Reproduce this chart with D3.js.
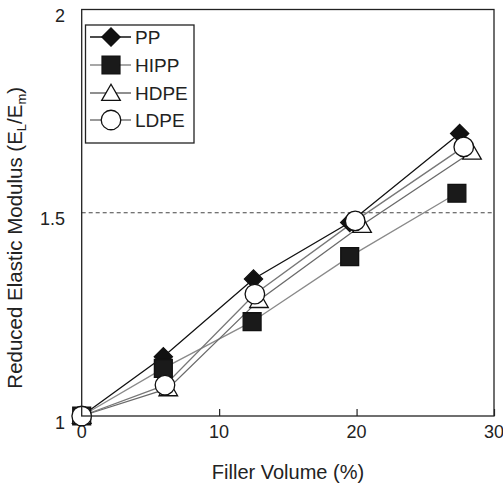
<!DOCTYPE html>
<html><head><meta charset="utf-8">
<script src="https://cdn.jsdelivr.net/npm/d3@7"></script>
<style>body{margin:0;background:#fff}svg{display:block;font-family:"Liberation Sans",Arial,sans-serif}</style>
</head><body><svg id="c" width="503" height="487"></svg>
<script>
const seriesNames = ["PP", "HIPP", "HDPE", "LDPE"];
const ppX = [0, 5.94, 12.5, 19.5, 27.5];
const ppY = [1, 1.146, 1.337, 1.476, 1.695];
const hippX = [0, 5.94, 12.4, 19.5, 27.3];
const hippY = [1, 1.117, 1.232, 1.392, 1.548];
const hdpeX = [0, 6.3, 12.9, 20.4, 28.4];
const hdpeY = [1, 1.068, 1.285, 1.470, 1.650];
const ldpeX = [0, 6.06, 12.6, 19.9, 27.8];
const ldpeY = [1, 1.076, 1.300, 1.480, 1.662];
const xTicks = [0, 10, 20, 30];
const yTicks = [1, 1.5, 2];

const svg = d3.select("#c");
const L = 81.7, R = 494, T = 9.5, B = 416;
const x = d3.scaleLinear().domain([0, 30]).range([L, R]);
const y = d3.scaleLinear().domain([1, 2]).range([B, T]);

const styles = {
  PP:   {line: "#111", sym: d3.symbolSquare, size: 165, rot: 45, fill: "#111"},
  HIPP: {line: "#8a8a8a", sym: d3.symbolSquare, size: 320, rot: 0, fill: "#1a1a1a"},
  HDPE: {line: "#6a6a6a", sym: d3.symbolTriangle, size: 150, rot: 0, fill: "#fff"},
  LDPE: {line: "#777", sym: d3.symbolCircle, size: 300, rot: 0, fill: "#fff"}
};
const data = {
  PP: ppX.map((v, i) => [v, ppY[i]]),
  HIPP: hippX.map((v, i) => [v, hippY[i]]),
  HDPE: hdpeX.map((v, i) => [v, hdpeY[i]]),
  LDPE: ldpeX.map((v, i) => [v, ldpeY[i]])
};

// dashed line at 1.5
svg.append("line").attr("x1", L).attr("x2", R).attr("y1", y(1.5)).attr("y2", y(1.5))
  .attr("stroke", "#444").attr("stroke-width", 1).attr("stroke-dasharray", "4,3");

// x axis ticks inward
const xa = d3.axisBottom(x).tickValues(xTicks).tickSize(-7).tickFormat("");
svg.append("g").attr("transform", `translate(0,${B})`).call(xa)
  .call(g => g.select(".domain").remove())
  .call(g => g.selectAll("line").attr("stroke", "#222").attr("stroke-width", 1.2));
svg.append("g").selectAll("text").data(xTicks).join("text")
  .attr("x", d => x(d)).attr("y", 438).attr("text-anchor", "middle")
  .attr("font-size", 18).attr("fill", "#222").text(d => d);
svg.append("g").selectAll("text").data(yTicks).join("text")
  .attr("x", 65).attr("y", d => y(d) + 12.5).attr("text-anchor", "end")
  .attr("font-size", 18).attr("fill", "#222").text(d => d);

// series
const line = d3.line().x(d => x(d[0])).y(d => y(d[1]));
function symPath(n) {
  const s = styles[n];
  return d3.symbol().type(s.sym).size(s.size)();
}
function tf(n, px, py) {
  const s = styles[n];
  return `translate(${px},${py + (n === "HDPE" ? 2 : 0)}) rotate(${s.rot})`;
}
seriesNames.forEach(n => {
  const s = styles[n];
  svg.append("path").datum(data[n]).attr("d", line).attr("fill", "none")
    .attr("stroke", s.line).attr("stroke-width", 1.3);
});
seriesNames.forEach(n => {
  const s = styles[n];
  svg.append("g").selectAll("path").data(data[n]).join("path")
    .attr("d", symPath(n))
    .attr("transform", d => tf(n, x(d[0]), y(d[1])))
    .attr("fill", s.fill).attr("stroke", "#111").attr("stroke-width", 1.3);
});

// frame
svg.append("rect").attr("x", L).attr("y", T).attr("width", R - L).attr("height", B - T)
  .attr("fill", "none").attr("stroke", "#222").attr("stroke-width", 1.3);

// legend
const lg = svg.append("g");
lg.append("rect").attr("x", 85.5).attr("y", 25).attr("width", 108.5).attr("height", 118)
  .attr("fill", "#fff").attr("stroke", "#222").attr("stroke-width", 1.3);
const rowY = [37, 65, 93, 120];
seriesNames.forEach((n, i) => {
  const s = styles[n];
  const g = lg.append("g").attr("transform", `translate(0,${rowY[i]})`);
  g.append("line").attr("x1", 90).attr("x2", 131).attr("stroke", s.line).attr("stroke-width", 1.3);
  g.append("path").attr("d", symPath(n)).attr("transform", tf(n, 111, 0))
    .attr("fill", s.fill).attr("stroke", "#111").attr("stroke-width", 1.3);
  g.append("text").attr("x", 135).attr("y", 7).attr("font-size", 19).attr("fill", "#222").text(n);
});

// axis titles
svg.append("text").attr("x", 288).attr("y", 479).attr("text-anchor", "middle")
  .attr("font-size", 20).attr("fill", "#222").text("Filler Volume (%)");
const yt = svg.append("text").attr("transform", `translate(22,${(T + B) / 2 + 25}) rotate(-90)`)
  .attr("text-anchor", "middle").attr("font-size", 20.5).attr("fill", "#222");
yt.append("tspan").text("Reduced Elastic Modulus (E");
yt.append("tspan").attr("font-size", 13).attr("dy", 4).text("L");
yt.append("tspan").attr("dy", -4).text("/E");
yt.append("tspan").attr("font-size", 13).attr("dy", 4).text("m");
yt.append("tspan").attr("dy", -4).text(")");
</script></body></html>
